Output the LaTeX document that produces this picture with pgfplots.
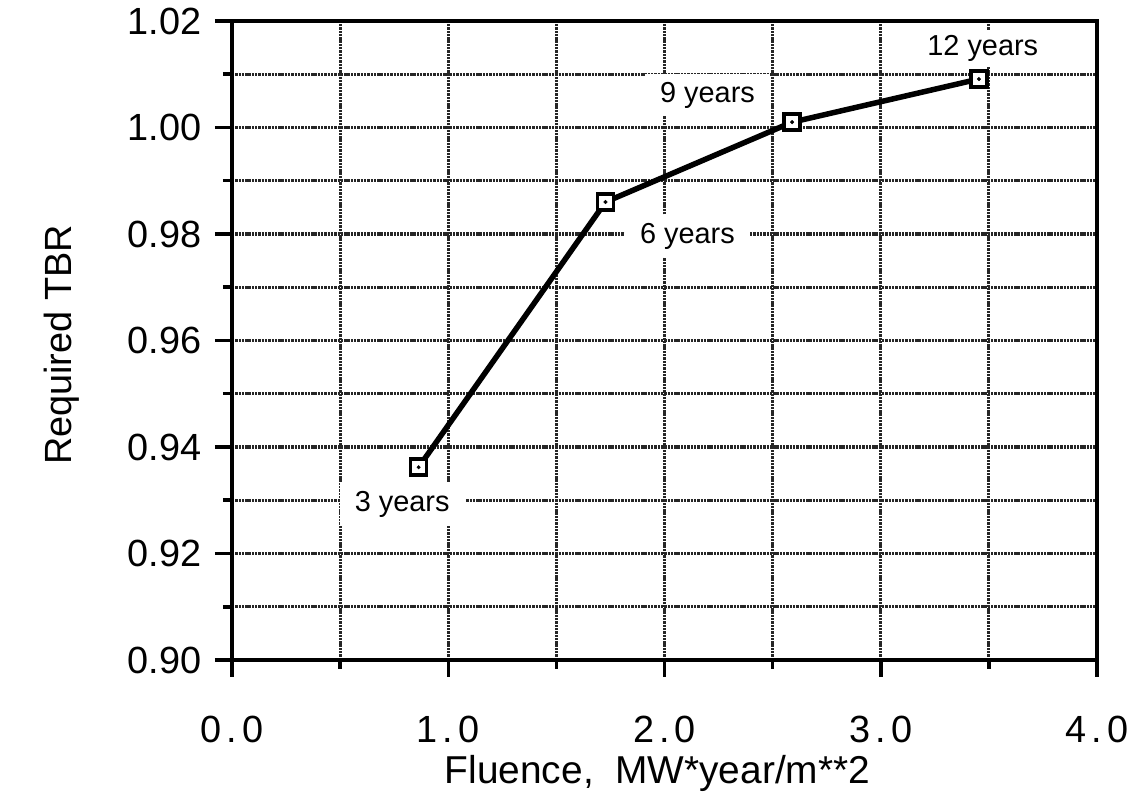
\documentclass[border=0pt]{standalone}
\usepackage{fontspec}
\setmainfont{Liberation Sans}
\usepackage{pgfplots}
\pgfplotsset{compat=1.18}
\usepackage{pgfplotstable}

% Required tritium breeding ratio versus fluence (3, 6, 9, 12 years)
\pgfplotstableread{
fluence tbr
0.863 0.9362
1.727 0.9860
2.590 1.0010
3.454 1.0091
}\tbrdata

% widely spaced x tick numbers
\newcommand{\spnum}[2]{#1\kern5bp.\kern5bp#2}

\begin{document}
\begin{tikzpicture}
\useasboundingbox (-232bp,-135bp) rectangle (903bp,660bp);
\begin{axis}[
  at={(0,0)}, anchor=south west,
  scale only axis, width=865bp, height=639bp,
  xmin=0, xmax=4, ymin=0.90, ymax=1.02,
  xtick={0,1,2,3,4}, xticklabels={\spnum00,\spnum10,\spnum20,\spnum30,\spnum40},
  minor x tick num=1,
  ytick={0.90,0.92,0.94,0.96,0.98,1.00,1.02},
  yticklabels={0.90,0.92,0.94,0.96,0.98,1.00,1.02},
  minor y tick num=1,
  grid=both,
  major grid style={line width=3.2bp, black!85, dash pattern=on 2.4bp off 0.9bp},
  minor grid style={line width=3.2bp, black!85, dash pattern=on 2.4bp off 0.9bp},
  axis line style={line width=4bp},
  tick pos=left, tick align=outside,
  major tick length=17bp, minor tick length=9bp,
  tick style={line width=3.5bp, black},
  y tick label style={font=\fontsize{38}{42}\selectfont, xshift=-10bp},
  x tick label style={font=\fontsize{38}{42}\selectfont, yshift=-36bp},
  xlabel={Fluence,\ \ MW*year/m**2},
  ylabel={Required TBR},
  xlabel style={font=\fontsize{39}{42}\selectfont, at={(axis description cs:0.5,0)},
                anchor=base, xshift=-7bp, yshift=-123bp},
  ylabel style={font=\fontsize{38}{42}\selectfont,
                at={([xshift=-170bp]axis description cs:0,0.493)}, anchor=center},
  clip=false,
]
\addplot[black, line width=5.5bp, mark=square*, mark size=8bp,
  mark options={fill=white, line width=3.5bp, solid}] table[x=fluence, y=tbr] {\tbrdata};
\addplot[only marks, mark=*, mark size=1.8bp, black] table[x=fluence, y=tbr] {\tbrdata};

\begin{scope}[every node/.style={fill=white, inner xsep=15bp, inner ysep=8bp,
    font=\fontsize{29}{31}\selectfont}]
\node at (axis cs:0.787,0.9293) {3 years};
\node at (axis cs:2.106,0.9796) {6 years};
\node at (axis cs:2.199,1.0061) {9 years};
\node[inner ysep=5bp] at (axis cs:3.472,1.0149) {12 years};
\end{scope}
\end{axis}
\end{tikzpicture}
\end{document}
